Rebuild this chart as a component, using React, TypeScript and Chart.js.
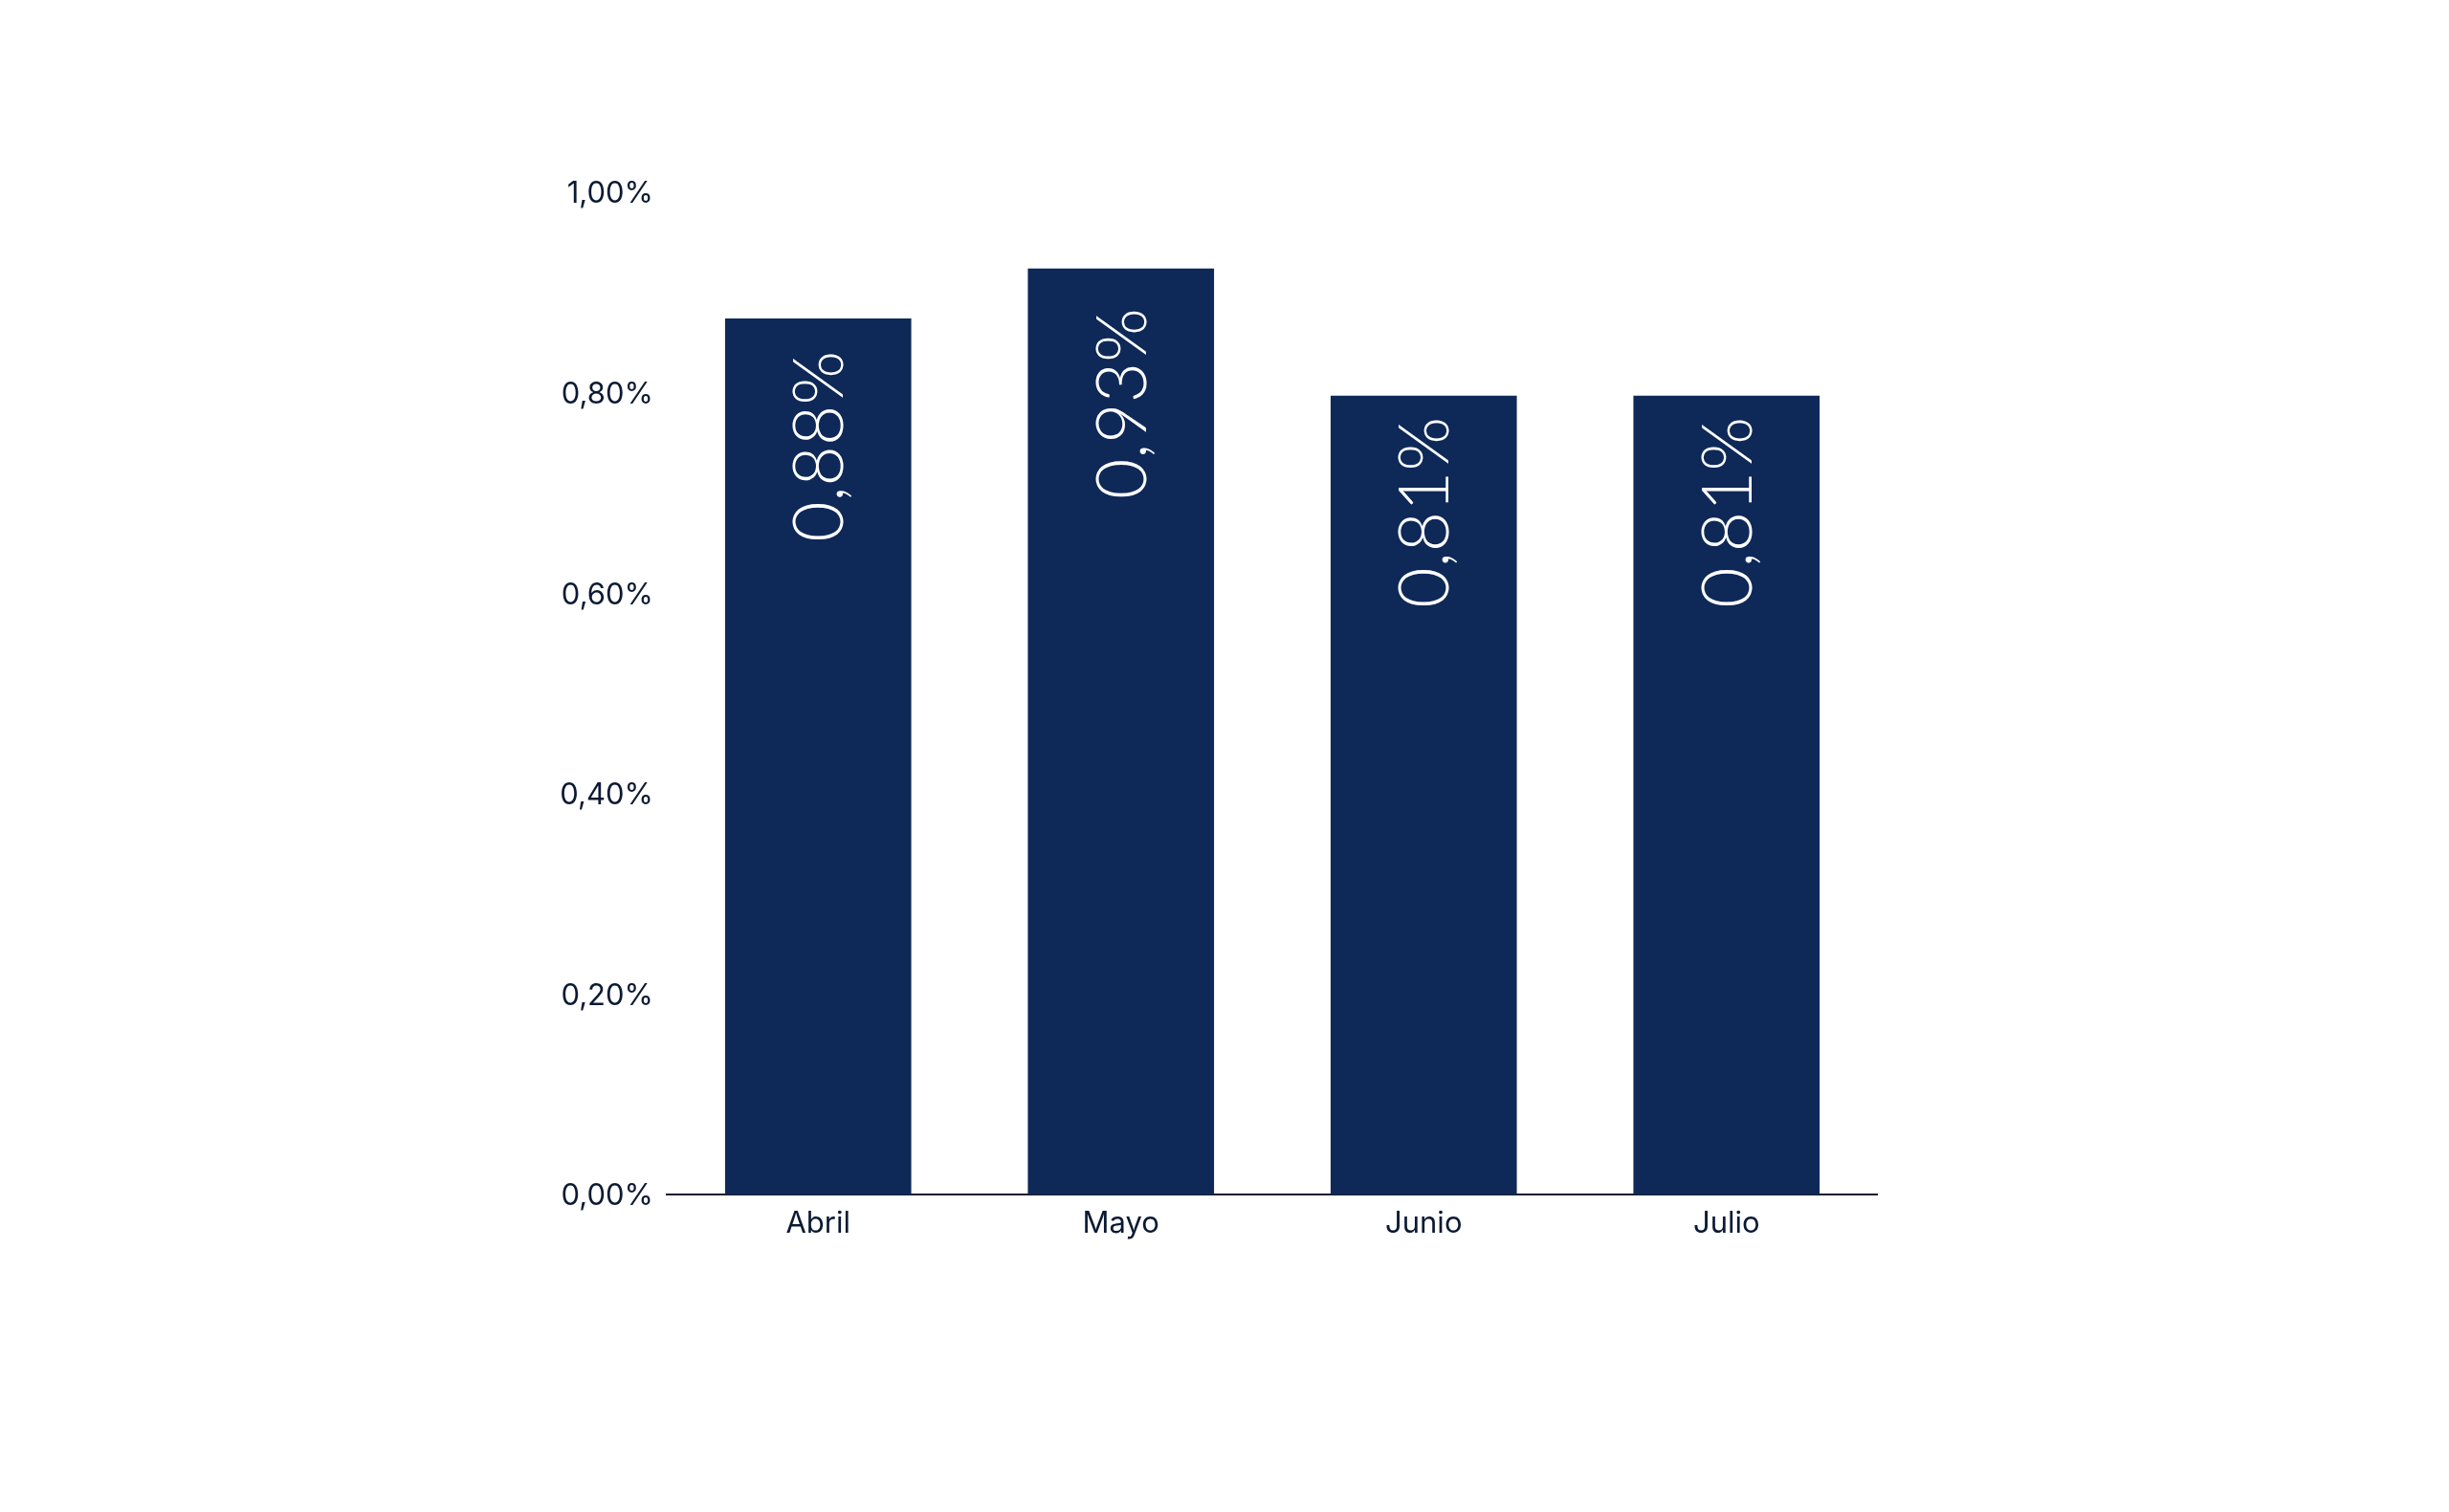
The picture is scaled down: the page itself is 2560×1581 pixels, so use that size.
import { useEffect, useRef } from "react";
import { Chart, registerables } from "chart.js";
import type { Plugin } from "chart.js";

Chart.register(...registerables);

// months shown on the x axis
const months = ["Abril", "Mayo", "Junio", "Julio"];
// bar heights (percent)
const rates = [0.874, 0.924, 0.797, 0.797];
// text printed inside each bar
const barLabels = ["0,88%", "0,93%", "0,81%", "0,81%"];
// y axis tick texts, from 0 up to 1
const yTickLabels = ["0,00%", "0,20%", "0,40%", "0,60%", "0,80%", "1,00%"];

const NAVY = "#0e2958";
const INK = "#0b1a33";

// rotated white labels inside the bars
const barLabelPlugin: Plugin<"bar"> = {
  id: "barLabels",
  afterDatasetsDraw(chart) {
    const { ctx } = chart;
    const meta = chart.getDatasetMeta(0);
    const base = chart.scales.y.getPixelForValue(0);
    meta.data.forEach((bar, i) => {
      const { x, y } = bar.getProps(["x", "y"], true) as { x: number; y: number };
      const cy = base + (y - base) * 0.854;
      ctx.save();
      ctx.translate(x, cy);
      ctx.rotate(-Math.PI / 2);
      ctx.font = "300 73px Lato";
      ctx.fillStyle = "#ffffff";
      ctx.textAlign = "center";
      ctx.textBaseline = "alphabetic";
      ctx.fillText(barLabels[i], 0, 26);
      ctx.restore();
    });
  },
};

export default function App() {
  const canvasRef = useRef<HTMLCanvasElement | null>(null);

  useEffect(() => {
    if (!canvasRef.current) return;

    const chart = new Chart(canvasRef.current, {
      type: "bar",
      data: {
        labels: months,
        datasets: [
          {
            data: rates,
            backgroundColor: NAVY,
            borderWidth: 0,
            categoryPercentage: 1,
            barPercentage: 0.615,
          },
        ],
      },
      options: {
        animation: false,
        responsive: true,
        maintainAspectRatio: false,
        layout: {
          padding: { left: 557, right: 597, top: 201, bottom: 252 },
        },
        plugins: {
          legend: { display: false },
          tooltip: { enabled: false },
        },
        scales: {
          x: {
            grid: { display: false, drawTicks: false, lineWidth: 0 },
            border: { display: true, color: INK, width: 2 },
            ticks: {
              color: INK,
              padding: 12,
              font: { family: "Inter", size: 31 },
            },
            afterFit: (scale) => {
              scale.height = 80;
            },
          },
          y: {
            min: 0,
            max: 1,
            grid: { display: false, drawTicks: false },
            border: { display: false },
            ticks: {
              stepSize: 0.2,
              color: INK,
              padding: 14,
              labelOffset: 2,
              font: { family: "Inter", size: 31 },
              callback: (_value, index) => yTickLabels[index],
            },
            afterFit: (scale) => {
              scale.width = 140;
            },
          },
        },
      },
      plugins: [barLabelPlugin],
    });

    return () => {
      chart.destroy();
    };
  }, []);

  return (
    <div
      style={{
        position: "absolute",
        top: 0,
        left: 0,
        width: "2560px",
        height: "1581px",
        background: "#ffffff",
      }}
    >
      <canvas ref={canvasRef}></canvas>
    </div>
  );
}
